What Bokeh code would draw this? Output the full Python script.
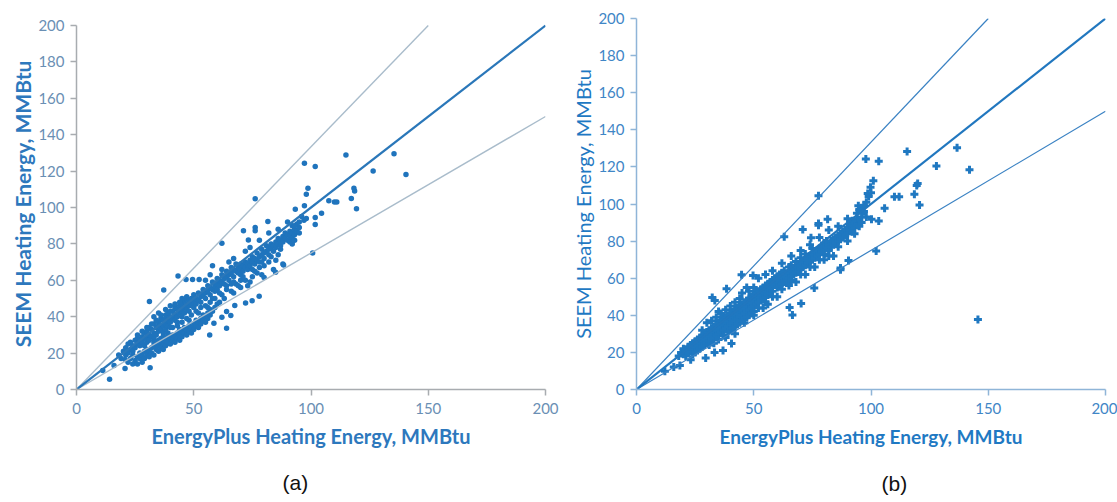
from bokeh.plotting import figure
from bokeh.layouts import row
from bokeh.models import Range1d, FixedTicker
from bokeh.embed import file_html
from bokeh.resources import INLINE

# ---------------- data ----------------
ticks_x = [0, 50, 100, 150, 200]
ticks_y = [0, 20, 40, 60, 80, 100, 120, 140, 160, 180, 200]

# reference lines: 1:1, +33% and -25%
one_x, one_y = [0, 200], [0, 200]
upper_x, upper_y = [0, 150], [0, 200]
lower_x, lower_y = [0, 200], [0, 150]

# (a) SEEM vs EnergyPlus heating energy, MMBtu
pts_a = [
    (18,19),(19,17),(20,21),(21,19),(21,23),(22,20),(22,25),(23,22),(23,26),(24,21),(24,24),(25,27),(25,23),
    (26,25),(26,28),(27,24),(27,27),(28,29),(28,26),(29,31),(29,24),(30,28),(30,32),(30,26),
    (31,30),(31,34),(32,29),(32,33),(33,31),(33,36),(33,28),(34,34),(34,30),(35,37),(35,32),(35,35),(36,33),
    (36,39),(37,35),(37,31),(37,38),(38,36),(38,41),(38,33),(39,38),(39,35),(39,42),(40,37),(40,40),(40,34),
    (41,39),(41,43),(42,38),(42,41),(42,45),(43,40),(43,44),(43,37),(44,42),(44,46),(45,43),(45,40),(45,47),
    (46,45),(46,42),(46,49),(47,44),(47,47),(47,51),(48,46),(48,49),(48,43),(49,47),(49,50),(50,48),(50,52),
    (50,45),(51,50),(51,47),(52,49),(52,53),(53,51),(53,48),(54,52),(54,55),(55,50),(55,53),(56,54),(56,57),
    (57,52),(57,56),(58,55),(58,59),(59,57),(59,54),(60,58),(60,61),(60,55),(61,57),(61,60),(62,59),(62,63),
    (63,61),(63,58),(64,62),(64,65),(65,60),(65,63),(66,64),(66,67),(67,62),(67,66),(68,65),(68,69),(69,64),
    (69,67),(70,66),(70,69),(70,63),(71,68),(71,65),(72,70),(72,67),(73,69),(73,66),(74,71),(74,68),(75,70),
    (75,73),(76,69),(76,72),(77,71),(77,75),(78,73),(78,70),(79,74),(79,77),(80,72),(80,75),(81,76),(81,79),
    (82,74),(82,77),(83,78),(83,80),(84,76),(84,79),(85,81),(85,78),(86,80),(86,83),(87,79),(87,82),(88,84),
    (88,81),(89,83),(89,86),(90,82),(90,85),(91,84),(91,87),(92,86),(92,83),(93,88),(93,85),(94,87),(95,89),
    (22,15),(23,17),(24,14),(24,19),(25,16),(26,18),(26,14),(27,20),(27,17),(28,15),(28,19),(29,21),(29,17),
    (30,19),(30,22),(31,18),(31,21),(32,23),(32,20),(33,19),(33,24),(34,22),(34,25),(35,21),(35,24),(36,26),
    (36,23),(37,25),(37,22),(38,27),(38,24),(39,26),(39,29),(40,25),(40,28),(41,27),(41,30),(42,29),(42,26),
    (43,31),(43,28),(44,30),(44,27),(45,32),(45,29),(46,31),(46,34),(47,30),(47,33),(48,32),(48,35),(49,34),
    (49,31),(50,36),(50,33),(51,35),(51,38),(52,37),(52,34),(53,39),(53,36),(54,38),(54,41),(55,40),(55,37),
    (56,42),(56,39),(57,41),(57,44),(58,43),(59,45),(60,47),
    (62,52),(64,55),(66,54),(68,58),(70,56),(72,60),(73,57),(75,62),(77,64),(79,63),(80,68),(82,70),(84,66),
    (85,71),(86,74),(88,69),(70,60),(66,58),(63,50),(61,48),(67,53),(69,57),(74,59),(76,65),(78,67),
    (35,42),(40,46),(45,50),(33,40),(38,44),(55,60),(57,63),(58,68),(62,66),(65,70),(67,72),(72,76),(74,78),
    (78,82),(82,86),(86,88),(90,92),(92,90),(95,92),(94,91),(93,90),(97,93),(96,95),(98,94),
    (26,30),(28,32),(30,34),(32,36),(34,38),(36,41),(38,39),(40,43),(42,47),(44,48),(36,28),(39,31),(41,34),
    (43,35),(45,37),(47,39),(49,41),(51,43),(53,45),(55,46),(57,48),(59,50),(29,28),(31,27),(33,26),(35,27),
    (37,29),(39,30),(44,33),(48,38),(52,42),(56,45),(58,50),(61,53),(64,57),(67,59),(71,62),(75,66),(79,70),
    (83,73),(87,77),(91,81),(93,82),(95,86),(92,80),
    (97.2,124.3),(101.8,122.5),(114.9,128.9),(135.4,129.6),(126.5,120.1),(140.5,118.1),(76.2,104.8),
    (98.7,110.6),(98,107.3),(107.6,103.7),(110,103),(111,103),(117.2,105),(118.3,110.6),(118.6,109),
    (119.4,99.3),(93.3,99),(97.2,101),(104.5,96.9),(101.8,94.5),(101.8,90.7),(100.7,75),(81.6,92.3),
    (76.2,89),(76.2,87.2),(71.2,87.2),(73.3,82.1),(62,80.4),(88.3,68.4),(84.9,64.4),(80,61.6),(43.3,62.3),
    (46.7,60.5),(49.5,60.5),(52.3,60.5),(37.2,54.7),(31.1,48.3),(77.9,51.2),(74.9,48.8),(72.1,47.5),
    (67.5,46.1),(64,42.8),(65.8,40.6),(62,39.7),(58.6,36.4),(64,33.6),(56.8,30),(31.4,11.9),(14.1,5.7),
    (11.2,10.4),(16,13.2),(20.7,11.5),(20.7,16.5),
]

# (b) SEEM (revised) vs EnergyPlus heating energy, MMBtu
pts_b = [
    (18,18),(19,20),(20,19),(20,22),(21,18),(21,21),(22,23),(22,20),(23,21),(23,24),(24,22),(24,25),(24,19),
    (25,23),(25,26),(25,20),(26,24),(26,27),(26,21),(27,25),(27,28),(27,22),(28,26),(28,29),(28,23),(29,27),
    (29,30),(29,24),(30,28),(30,31),(30,25),
    (31,29),(31,32),(31,26),(32,30),(32,33),(32,27),(33,31),(33,34),(33,28),(34,32),(34,35),(34,29),(35,33),
    (35,36),(35,30),(36,34),(36,37),(36,31),(37,35),(37,38),(37,32),(38,36),(38,39),(38,33),(39,37),(39,40),
    (39,34),(40,38),(40,41),(40,35),(40,32),
    (41,39),(41,42),(41,36),(42,40),(42,43),(42,37),(42,34),(43,41),(43,44),(43,38),(44,42),(44,45),(44,39),
    (44,36),(45,43),(45,46),(45,40),(46,44),(46,47),(46,41),(46,38),(47,45),(47,48),(47,42),(48,46),(48,49),
    (48,43),(48,40),(49,47),(49,50),(49,44),(50,48),(50,51),(50,45),(50,42),
    (51,49),(51,52),(51,46),(52,50),(52,53),(52,47),(53,51),(53,54),(53,48),(54,52),(54,55),(54,49),(55,53),
    (55,56),(55,50),(56,54),(56,57),(56,51),(57,55),(57,58),(57,52),(58,56),(58,59),(58,53),(59,57),(59,60),
    (60,58),(60,55),(60,61),
    (61,59),(61,62),(61,56),(62,60),(62,63),(63,61),(63,58),(63,64),(64,62),(64,59),(65,63),(65,66),(65,60),
    (66,64),(66,67),(66,61),(67,65),(67,62),(68,66),(68,69),(68,63),(69,67),(69,64),(70,68),(70,65),(70,71),
    (71,69),(71,66),(72,70),(72,67),(72,73),(73,71),(73,68),(74,72),(74,69),(75,73),(75,70),(75,76),(76,74),
    (76,71),(77,75),(77,72),(78,76),(78,73),(79,77),(79,74),(80,76),(80,79),(80,73),
    (81,77),(81,80),(82,78),(82,75),(83,80),(83,77),(84,81),(84,78),(85,82),(85,79),(86,83),(86,80),(87,84),
    (87,81),(88,85),(88,82),(89,86),(89,83),(90,87),(90,84),(91,86),(91,89),(92,88),(92,85),(93,87),(93,90),
    (94,89),(94,92),(95,91),(96,93),(95,88),
    (30,36),(35,42),(40,45),(45,52),(47,55),(52,60),(55,62),(58,64),(62,68),(66,72),(70,75),(74,78),(78,82),
    (82,86),(86,88),(90,92),(96,98),(98,101),(99,104),(100,106),(97,96),(98,93),(60,50),(62,54),(65,56),
    (68,58),(72,62),(76,66),(80,70),(84,72),(46,36),(50,40),(54,44),(42,30),(38,28),(56,46),
    (28,32),(32,37),(34,39),(36,41),(38,43),(42,47),(44,49),(48,53),(50,55),(31,24),(33,25),(35,27),(37,29),
    (39,31),(41,33),(43,35),(45,37),(47,39),(49,41),(52,44),(55,47),(58,50),(62,57),(66,59),(70,62),(74,66),
    (78,70),(82,72),(86,77),(90,80),(93,84),(92,91),(94,95),(95,97),(96,90),(97,99),
    (97.8,124.3),(103.3,123.1),(115.4,128.3),(136.7,130.3),(127.9,120.5),(142,118.4),(145.6,37.8),
    (77.6,104.4),(101,112.6),(99.8,109),(98.6,105.7),(110,103.9),(112,103.9),(118.5,105.3),(119.9,111),
    (119.5,110),(120.7,99.5),(105.8,97.7),(94.6,99),(100.2,91.8),(103.3,90.9),(102.2,74.6),(90.4,69.5),
    (87,65.5),(87,64.5),(81.5,91.8),(77.6,89.5),(77.6,88.5),(70.9,86.2),(74.4,81.8),(63,82.4),(44.8,61.9),
    (49.7,61.5),(38.4,54.3),(32.3,49.6),(33.4,48),(70.2,46.3),(66.5,40.2),(65.3,44.2),(75.8,54.7),
    (36.9,21),(33.3,19.9),(29.5,17),(23.1,16.1),(18.5,13),(15.9,12.1),(12.1,9.8),(21.9,20.3),(40.5,24.8),
]

x_a = [p[0] for p in pts_a]
y_a = [p[1] for p in pts_a]
x_b = [p[0] for p in pts_b]
y_b = [p[1] for p in pts_b]

x_title = "EnergyPlus Heating Energy, MMBtu"
y_title = "SEEM Heating Energy, MMBtu"
captions = ["(a)", "(b)"]

FONT = "Lato"


def style_axes(p, axis_color, tick_color, title_color, title_size_x, title_size_y,
               y_style, x_standoff, y_standoff):
    p.xaxis.ticker = FixedTicker(ticks=ticks_x)
    p.yaxis.ticker = FixedTicker(ticks=ticks_y)
    p.yaxis.bounds = (0, 200)
    for ax in (p.xaxis[0], p.yaxis[0]):
        ax.axis_line_color = axis_color
        ax.axis_line_width = 1.5
        ax.major_tick_line_color = axis_color
        ax.major_tick_line_width = 1.5
        ax.major_tick_out = 6
        ax.major_tick_in = 0
        ax.minor_tick_line_color = None
        ax.major_label_text_color = tick_color
        ax.major_label_text_font = FONT
        ax.major_label_text_font_size = "15px"
        ax.axis_label_text_color = title_color
        ax.axis_label_text_font = FONT
    p.xaxis.major_label_standoff = 7
    p.yaxis.major_label_standoff = 6
    p.xaxis.axis_label = x_title
    p.yaxis.axis_label = y_title
    p.xaxis.axis_label_text_font_size = title_size_x
    p.yaxis.axis_label_text_font_size = title_size_y
    p.xaxis.axis_label_text_font_style = "bold"
    p.yaxis.axis_label_text_font_style = y_style
    p.xaxis.axis_label_standoff = x_standoff
    p.yaxis.axis_label_standoff = y_standoff
    p.grid.visible = False
    p.outline_line_color = None


def caption(p, text, offset, standoff):
    p.title.text = text
    p.title.align = "left"
    p.title.offset = offset
    p.title.standoff = standoff
    p.title.text_font = "Liberation Sans"
    p.title.text_font_size = "21px"
    p.title.text_font_style = "normal"
    p.title.text_color = "#111111"


# ---------------- figure (a) ----------------
pa = figure(frame_width=469, frame_height=371, output_backend="svg", toolbar_location=None,
            x_range=Range1d(0, 200), y_range=Range1d(0, 203.85), title_location="below",
            min_border_left=76, min_border_right=15, min_border_top=18, min_border_bottom=113)
style_axes(pa, "#a8acb0", "#6a8fb4", "#2d78bd", "20px", "21px", "bold", 7, 0)
pa.scatter(x_a, y_a, marker="circle", size=5.5, fill_color="#1f74bd", line_color=None)
pa.line(upper_x, upper_y, line_color="#a9bccb", line_width=1.4)
pa.line(lower_x, lower_y, line_color="#a9bccb", line_width=1.4)
pa.line(one_x, one_y, line_color="#2a77b9", line_width=2.2)
caption(pa, captions[0], 206, 37)

# ---------------- figure (b) ----------------
pb = figure(frame_width=469, frame_height=371, output_backend="svg", toolbar_location=None,
            x_range=Range1d(0, 200), y_range=Range1d(0, 200), title_location="below",
            min_border_left=76, min_border_right=12, min_border_top=18, min_border_bottom=113)
style_axes(pb, "#8fb5d8", "#3f86c6", "#1f79c3", "19px", "20px", "normal", 8, 0)
pb.scatter(x_b, y_b, marker="plus", size=8, fill_color="#1f78c1", line_color=None)
pb.line(upper_x, upper_y, line_color="#3a82c3", line_width=1.2)
pb.line(lower_x, lower_y, line_color="#3a82c3", line_width=1.2)
pb.line(one_x, one_y, line_color="#2177bf", line_width=2.2)
caption(pb, captions[1], 245, 39)

layout = row(pa, pb)
open("out.html", "w").write(file_html(layout, INLINE))
